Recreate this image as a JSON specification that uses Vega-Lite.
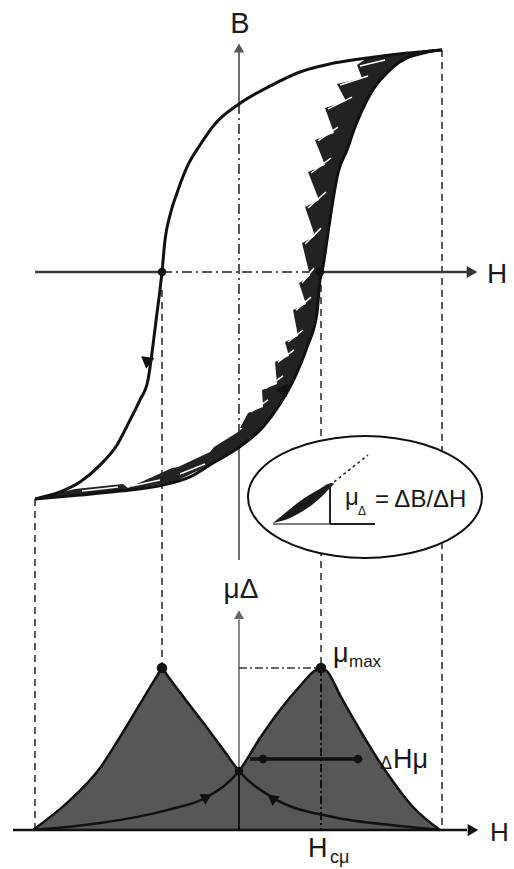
{
  "$schema": "https://vega.github.io/schema/vega-lite/v6.json",
  "width": 514,
  "height": 869,
  "autosize": {"type": "fit", "contains": "padding"},
  "padding": 0,
  "background": "white",
  "config": {"view": {"stroke": null}, "text": {"font": "Liberation Sans", "color": "#1a1a1a"}},
  "datasets": {
    "loop": [
      {"branch": "down", "h": 2.5375, "b": 0.991}, {"branch": "down", "h": 2.2625, "b": 0.982},
      {"branch": "down", "h": 1.8875, "b": 0.969}, {"branch": "down", "h": 1.6, "b": 0.955},
      {"branch": "down", "h": 1.1375, "b": 0.929}, {"branch": "down", "h": 0.7625, "b": 0.893},
      {"branch": "down", "h": 0.3875, "b": 0.83}, {"branch": "down", "h": 0, "b": 0.75},
      {"branch": "down", "h": -0.3, "b": 0.661}, {"branch": "down", "h": -0.4875, "b": 0.567},
      {"branch": "down", "h": -0.6375, "b": 0.478}, {"branch": "down", "h": -0.775, "b": 0.353},
      {"branch": "down", "h": -0.8625, "b": 0.254}, {"branch": "down", "h": -0.925, "b": 0.143},
      {"branch": "down", "h": -0.9625, "b": 0}, {"branch": "down", "h": -0.9875, "b": -0.08},
      {"branch": "down", "h": -1.025, "b": -0.183}, {"branch": "down", "h": -1.075, "b": -0.326},
      {"branch": "down", "h": -1.1375, "b": -0.482}, {"branch": "down", "h": -1.2375, "b": -0.571},
      {"branch": "down", "h": -1.3625, "b": -0.661}, {"branch": "down", "h": -1.525, "b": -0.772},
      {"branch": "down", "h": -1.7375, "b": -0.862}, {"branch": "down", "h": -1.9875, "b": -0.9375},
      {"branch": "down", "h": -2.2375, "b": -0.982}, {"branch": "down", "h": -2.55, "b": -1.013},
      {"branch": "up", "h": -2.55, "b": -1.013}, {"branch": "up", "h": -1.9875, "b": -0.996},
      {"branch": "up", "h": -1.4875, "b": -0.978}, {"branch": "up", "h": -0.95, "b": -0.951},
      {"branch": "up", "h": -0.6125, "b": -0.915}, {"branch": "up", "h": -0.325, "b": -0.853},
      {"branch": "up", "h": -0.0125, "b": -0.786}, {"branch": "up", "h": 0.3, "b": -0.692},
      {"branch": "up", "h": 0.5125, "b": -0.589}, {"branch": "up", "h": 0.675, "b": -0.487},
      {"branch": "up", "h": 0.85, "b": -0.335}, {"branch": "up", "h": 0.975, "b": -0.183},
      {"branch": "up", "h": 1.0125, "b": -0.036}, {"branch": "up", "h": 1.0375, "b": 0},
      {"branch": "up", "h": 1.1125, "b": 0.174}, {"branch": "up", "h": 1.175, "b": 0.321},
      {"branch": "up", "h": 1.2375, "b": 0.442}, {"branch": "up", "h": 1.35, "b": 0.545},
      {"branch": "up", "h": 1.45, "b": 0.647}, {"branch": "up", "h": 1.6, "b": 0.768},
      {"branch": "up", "h": 1.925, "b": 0.915}, {"branch": "up", "h": 2.2625, "b": 0.978},
      {"branch": "up", "h": 2.5375, "b": 0.991}
    ],
    "bandUpper": [
      {"b": 0.991, "h": 2.5375, "h2": 2.5375}, {"b": 0.955, "h": 1.6, "h2": 2.1375},
      {"b": 0.924, "h": 1.475, "h2": 1.9625}, {"b": 0.866, "h": 1.5375, "h2": 1.8125},
      {"b": 0.839, "h": 1.225, "h2": 1.7375}, {"b": 0.763, "h": 1.3375, "h2": 1.59},
      {"b": 0.732, "h": 1.075, "h2": 1.55}, {"b": 0.621, "h": 1.1875, "h2": 1.425},
      {"b": 0.589, "h": 0.95, "h2": 1.3875}, {"b": 0.478, "h": 1.075, "h2": 1.275},
      {"b": 0.446, "h": 0.8625, "h2": 1.2375}, {"b": 0.321, "h": 1.0, "h2": 1.175},
      {"b": 0.29, "h": 0.825, "h2": 1.1625}, {"b": 0.161, "h": 0.95, "h2": 1.106},
      {"b": 0.129, "h": 0.7875, "h2": 1.0875}, {"b": -0.018, "h": 0.8875, "h2": 1.025},
      {"b": -0.049, "h": 0.75, "h2": 1.0125}, {"b": -0.143, "h": 0.8375, "h2": 0.9875},
      {"b": -0.17, "h": 0.675, "h2": 0.975}, {"b": -0.286, "h": 0.7375, "h2": 0.9},
      {"b": -0.313, "h": 0.575, "h2": 0.875}, {"b": -0.375, "h": 0.625, "h2": 0.8},
      {"b": -0.402, "h": 0.45, "h2": 0.775}, {"b": -0.5, "h": 0.475, "h2": 0.656},
      {"b": -0.527, "h": 0.2875, "h2": 0.6125}, {"b": -0.603, "h": 0.3, "h2": 0.4875},
      {"b": -0.629, "h": 0.1125, "h2": 0.425}, {"b": -0.696, "h": 0.0125, "h2": 0.2875}
    ],
    "bandLower": [
      {"h": -2.55, "b": -1.009, "b2": -1.013}, {"h": -2.05, "b": -0.969, "b2": -0.996},
      {"h": -1.45, "b": -0.946, "b2": -0.977}, {"h": -1.3875, "b": -0.964, "b2": -0.973},
      {"h": -0.8375, "b": -0.875, "b2": -0.938}, {"h": -0.7625, "b": -0.871, "b2": -0.929},
      {"h": -0.3625, "b": -0.804, "b2": -0.862}, {"h": -0.3125, "b": -0.781, "b2": -0.848},
      {"h": -0.0125, "b": -0.714, "b2": -0.786}, {"h": 0.3, "b": -0.616, "b2": -0.692}
    ],
    "slivers": [
      {"h": 1.5125, "b": 0.92, "h2": 1.825, "b2": 0.946},
      {"h": 1.2625, "b": 0.835, "h2": 1.6125, "b2": 0.875},
      {"h": 1.1125, "b": 0.728, "h2": 1.4125, "b2": 0.781},
      {"h": 0.9875, "b": 0.585, "h2": 1.2375, "b2": 0.647},
      {"h": 0.9, "b": 0.442, "h2": 1.15, "b2": 0.509},
      {"h": 0.8625, "b": 0.286, "h2": 1.0875, "b2": 0.357},
      {"h": 0.825, "b": 0.125, "h2": 1.025, "b2": 0.196},
      {"h": 0.7875, "b": -0.049, "h2": 0.9375, "b2": 0.018},
      {"h": 0.7125, "b": -0.17, "h2": 0.9, "b2": -0.112},
      {"h": 0.6125, "b": -0.3125, "h2": 0.8, "b2": -0.259},
      {"h": 0.4875, "b": -0.402, "h2": 0.6875, "b2": -0.348},
      {"h": 0.325, "b": -0.522, "h2": 0.55, "b2": -0.464},
      {"h": 0.15, "b": -0.625, "h2": 0.3625, "b2": -0.571},
      {"h": -1.9625, "b": -0.978, "h2": -1.5125, "b2": -0.96},
      {"h": -1.3375, "b": -0.955, "h2": -0.9875, "b2": -0.929},
      {"h": -0.7375, "b": -0.902, "h2": -0.425, "b2": -0.857}
    ],
    "ellipseFill": [
      {"h": 0.1125, "b": -1.0045, "b2": -1.0045}, {"h": 0.1625, "b": -0.934, "b2": -1.075},
      {"h": 0.309, "b": -0.868, "b2": -1.141}, {"h": 0.541, "b": -0.812, "b2": -1.197},
      {"h": 0.844, "b": -0.769, "b2": -1.24}, {"h": 1.196, "b": -0.742, "b2": -1.267},
      {"h": 1.575, "b": -0.732, "b2": -1.277}, {"h": 1.954, "b": -0.742, "b2": -1.267},
      {"h": 2.306, "b": -0.769, "b2": -1.24}, {"h": 2.609, "b": -0.812, "b2": -1.197},
      {"h": 2.841, "b": -0.868, "b2": -1.141}, {"h": 2.9875, "b": -0.934, "b2": -1.075},
      {"h": 3.0375, "b": -1.0045, "b2": -1.0045}
    ],
    "ellipseEdge": [
      {"k": 0, "h": 3.0375, "b": -1.0045}, {"k": 1, "h": 2.9875, "b": -0.934},
      {"k": 2, "h": 2.841, "b": -0.868}, {"k": 3, "h": 2.609, "b": -0.812},
      {"k": 4, "h": 2.306, "b": -0.769}, {"k": 5, "h": 1.954, "b": -0.742},
      {"k": 6, "h": 1.575, "b": -0.732}, {"k": 7, "h": 1.196, "b": -0.742},
      {"k": 8, "h": 0.844, "b": -0.769}, {"k": 9, "h": 0.541, "b": -0.812},
      {"k": 10, "h": 0.309, "b": -0.868}, {"k": 11, "h": 0.1625, "b": -0.934},
      {"k": 12, "h": 0.1125, "b": -1.0045}, {"k": 13, "h": 0.1625, "b": -1.075},
      {"k": 14, "h": 0.309, "b": -1.141}, {"k": 15, "h": 0.541, "b": -1.197},
      {"k": 16, "h": 0.844, "b": -1.24}, {"k": 17, "h": 1.196, "b": -1.267},
      {"k": 18, "h": 1.575, "b": -1.277}, {"k": 19, "h": 1.954, "b": -1.267},
      {"k": 20, "h": 2.306, "b": -1.24}, {"k": 21, "h": 2.609, "b": -1.197},
      {"k": 22, "h": 2.841, "b": -1.141}, {"k": 23, "h": 2.9875, "b": -1.075}
    ],
    "lens": [
      {"h": 0.425, "b": -1.1205, "b2": -1.1205}, {"h": 0.6375, "b": -1.058, "b2": -1.098},
      {"h": 0.8, "b": -1.013, "b2": -1.067}, {"h": 0.9875, "b": -0.973, "b2": -1.018},
      {"h": 1.1625, "b": -0.942, "b2": -0.955}, {"h": 1.1875, "b": -0.946, "b2": -0.946}
    ],
    "peaks": [
      {"c": "A", "h": -2.575, "mu": 0}, {"c": "A", "h": -2.15, "mu": 0.167},
      {"c": "A", "h": -1.7375, "mu": 0.383}, {"c": "A", "h": -1.4875, "mu": 0.574},
      {"c": "A", "h": -1.2375, "mu": 0.778}, {"c": "A", "h": -1.025, "mu": 0.951},
      {"c": "A", "h": -0.9625, "mu": 1.0}, {"c": "A", "h": -0.9, "mu": 0.957},
      {"c": "A", "h": -0.675, "mu": 0.809}, {"c": "A", "h": -0.425, "mu": 0.648},
      {"c": "A", "h": -0.175, "mu": 0.481}, {"c": "A", "h": 0, "mu": 0.364},
      {"c": "A", "h": 0.425, "mu": 0.198}, {"c": "A", "h": 1.175, "mu": 0.08},
      {"c": "A", "h": 2.0125, "mu": 0.025}, {"c": "A", "h": 2.5125, "mu": 0},
      {"c": "B", "h": -2.575, "mu": 0}, {"c": "B", "h": -1.7375, "mu": 0.043},
      {"c": "B", "h": -0.9, "mu": 0.123}, {"c": "B", "h": -0.4, "mu": 0.204},
      {"c": "B", "h": 0, "mu": 0.364}, {"c": "B", "h": 0.2625, "mu": 0.568},
      {"c": "B", "h": 0.5125, "mu": 0.741}, {"c": "B", "h": 0.7625, "mu": 0.889},
      {"c": "B", "h": 0.9625, "mu": 0.988}, {"c": "B", "h": 1.025, "mu": 1.0},
      {"c": "B", "h": 1.1, "mu": 0.981}, {"c": "B", "h": 1.2625, "mu": 0.833},
      {"c": "B", "h": 1.5125, "mu": 0.617}, {"c": "B", "h": 1.85, "mu": 0.352},
      {"c": "B", "h": 2.175, "mu": 0.142}, {"c": "B", "h": 2.5125, "mu": 0}
    ]
  },
  "resolve": {"scale": {"y": "independent"}},
  "layer": [
    {
      "encoding": {
        "x": {"field": "h", "type": "quantitative", "axis": null,
              "scale": {"domain": [-2.9875, 3.4375], "nice": false, "zero": false}},
        "y": {"field": "b", "type": "quantitative", "axis": null,
              "scale": {"domain": [-2.6652, 1.2143], "nice": false, "zero": false}}
      },
      "layer": [
        {
          "data": {"values": [
            {"h": -2.55, "b": -1.013, "h2": -2.55, "b2": -2.491},
            {"h": -0.9625, "b": -0.08, "h2": -0.9625, "b2": -1.768},
            {"h": 1.025, "b": -0.058, "h2": 1.025, "b2": -1.768},
            {"h": 2.5375, "b": 0.991, "h2": 2.5375, "b2": -2.491}
          ]},
          "mark": {"type": "rule", "color": "#5a5a5a", "strokeWidth": 2, "strokeDash": [7, 5]},
          "encoding": {"x2": {"field": "h2"}, "y2": {"field": "b2"}}
        },
        {
          "data": {"values": [
            {"h": -2.55, "b": 0, "h2": -0.9625, "b2": 0},
            {"h": 1.0125, "b": 0, "h2": 2.85, "b2": 0}
          ]},
          "mark": {"type": "rule", "color": "#3a3a3a", "strokeWidth": 2.5},
          "encoding": {"x2": {"field": "h2"}, "y2": {"field": "b2"}}
        },
        {
          "data": {"values": [
            {"h": 0, "b": 1.0, "h2": 0, "b2": 0.75},
            {"h": 0, "b": -0.786, "h2": 0, "b2": -1.286}
          ]},
          "mark": {"type": "rule", "color": "#707070", "strokeWidth": 2},
          "encoding": {"x2": {"field": "h2"}, "y2": {"field": "b2"}}
        },
        {
          "data": {"values": [
            {"h": -0.9625, "b": 0, "h2": 1.0125, "b2": 0},
            {"h": 0, "b": 0.75, "h2": 0, "b2": -0.786}
          ]},
          "mark": {"type": "rule", "color": "#555555", "strokeWidth": 2, "strokeDash": [10, 4, 2, 4]},
          "encoding": {"x2": {"field": "h2"}, "y2": {"field": "b2"}}
        },
        {
          "data": {"name": "ellipseFill"},
          "mark": {"type": "area", "color": "white", "opacity": 1},
          "encoding": {"y2": {"field": "b2"}}
        },
        {
          "data": {"name": "ellipseEdge"},
          "mark": {"type": "line", "color": "#111111", "strokeWidth": 2, "interpolate": "cardinal-closed"},
          "encoding": {"order": {"field": "k", "type": "quantitative"}}
        },
        {
          "data": {"name": "lens"},
          "mark": {"type": "area", "color": "#1a1a1a", "interpolate": "monotone"},
          "encoding": {"y2": {"field": "b2"}}
        },
        {
          "data": {"values": [{"h": 0.425, "b": -1.125, "h2": 1.1375, "b2": -1.125}]},
          "mark": {"type": "rule", "color": "#555555", "strokeWidth": 1.3},
          "encoding": {"x2": {"field": "h2"}, "y2": {"field": "b2"}}
        },
        {
          "data": {"values": [
            {"h": 1.1375, "b": -1.125, "h2": 1.7, "b2": -1.125},
            {"h": 1.1375, "b": -0.946, "h2": 1.1375, "b2": -1.125}
          ]},
          "mark": {"type": "rule", "color": "#222222", "strokeWidth": 2},
          "encoding": {"x2": {"field": "h2"}, "y2": {"field": "b2"}}
        },
        {
          "data": {"values": [{"h": 1.1875, "b": -0.9375, "h2": 1.6125, "b2": -0.817}]},
          "mark": {"type": "rule", "color": "#222222", "strokeWidth": 1.5, "strokeDash": [3, 3]},
          "encoding": {"x2": {"field": "h2"}, "y2": {"field": "b2"}}
        },
        {
          "data": {"name": "bandUpper"},
          "mark": {"type": "area", "color": "#222222", "orient": "horizontal", "opacity": 1},
          "encoding": {"x2": {"field": "h2"}}
        },
        {
          "data": {"name": "bandLower"},
          "mark": {"type": "area", "color": "#222222", "opacity": 1},
          "encoding": {"y2": {"field": "b2"}}
        },
        {
          "data": {"name": "slivers"},
          "mark": {"type": "rule", "color": "white", "strokeWidth": 1.5},
          "encoding": {"x2": {"field": "h2"}, "y2": {"field": "b2"}}
        },
        {
          "data": {"name": "loop"},
          "mark": {"type": "line", "color": "#111111", "strokeWidth": 3, "interpolate": "monotone"},
          "encoding": {"detail": {"field": "branch"}}
        },
        {
          "data": {"values": [{"h": 0, "b": 1.0}]},
          "mark": {"type": "point", "shape": "triangle-up", "filled": true, "size": 110, "color": "#555555", "opacity": 1}
        },
        {
          "data": {"values": [{"h": 2.9125, "b": 0}]},
          "mark": {"type": "point", "shape": "triangle-right", "filled": true, "size": 150, "color": "#333333", "opacity": 1}
        },
        {
          "data": {"values": [{"h": -1.15, "b": -0.406}]},
          "mark": {"type": "point", "shape": "triangle-down", "angle": 8, "filled": true, "size": 180, "color": "#111111", "opacity": 1}
        },
        {
          "data": {"values": [{"h": 0.57, "b": -0.52}]},
          "mark": {"type": "point", "shape": "triangle-up", "angle": 33, "filled": true, "size": 180, "color": "#111111", "opacity": 1}
        },
        {
          "data": {"values": [{"h": -0.9625, "b": 0}, {"h": 1.0125, "b": 0}]},
          "mark": {"type": "circle", "size": 70, "color": "#111111", "opacity": 1}
        },
        {
          "data": {"values": [{"h": 0.0125, "b": 1.067, "t": "B"}]},
          "mark": {"type": "text", "fontSize": 29, "align": "center", "baseline": "alphabetic"},
          "encoding": {"text": {"field": "t"}}
        },
        {
          "data": {"values": [{"h": 3.1, "b": -0.049, "t": "H"}]},
          "mark": {"type": "text", "fontSize": 28, "align": "left", "baseline": "alphabetic"},
          "encoding": {"text": {"field": "t"}}
        },
        {
          "data": {"values": [{"h": 1.325, "b": -1.04, "t": "μ"}]},
          "mark": {"type": "text", "fontSize": 24, "align": "left", "baseline": "alphabetic"},
          "encoding": {"text": {"field": "t"}}
        },
        {
          "data": {"values": [{"h": 1.4875, "b": -1.085, "t": "Δ"}]},
          "mark": {"type": "text", "fontSize": 12, "align": "left", "baseline": "alphabetic"},
          "encoding": {"text": {"field": "t"}}
        },
        {
          "data": {"values": [{"h": 1.7, "b": -1.049, "t": "= ΔB/ΔH"}]},
          "mark": {"type": "text", "fontSize": 24, "align": "left", "baseline": "alphabetic"},
          "encoding": {"text": {"field": "t"}}
        }
      ]
    },
    {
      "encoding": {
        "x": {"field": "h", "type": "quantitative", "axis": null,
              "scale": {"domain": [-2.9875, 3.4375], "nice": false, "zero": false}},
        "y": {"field": "mu", "type": "quantitative", "axis": null,
              "scale": {"domain": [-0.2407, 5.1235], "nice": false, "zero": false}}
      },
      "layer": [
        {
          "data": {"name": "peaks"},
          "mark": {"type": "area", "color": "#575757", "opacity": 1, "interpolate": "monotone"},
          "encoding": {"detail": {"field": "c"}, "y2": {"datum": 0}}
        },
        {
          "data": {"name": "peaks"},
          "mark": {"type": "line", "color": "#111111", "strokeWidth": 2.5, "interpolate": "monotone"},
          "encoding": {"detail": {"field": "c"}}
        },
        {
          "data": {"values": [{"h": -2.825, "mu": 0, "h2": 2.85, "mu2": 0}]},
          "mark": {"type": "rule", "color": "#111111", "strokeWidth": 2.5},
          "encoding": {"x2": {"field": "h2"}, "y2": {"field": "mu2"}}
        },
        {
          "data": {"values": [{"h": 0, "mu": 0.364, "h2": 0, "mu2": 1.3}]},
          "mark": {"type": "rule", "color": "#8a8a8a", "strokeWidth": 2},
          "encoding": {"x2": {"field": "h2"}, "y2": {"field": "mu2"}}
        },
        {
          "data": {"values": [{"h": 0, "mu": 0, "h2": 0, "mu2": 0.364}]},
          "mark": {"type": "rule", "color": "#111111", "strokeWidth": 2},
          "encoding": {"x2": {"field": "h2"}, "y2": {"field": "mu2"}}
        },
        {
          "data": {"values": [{"h": 0, "mu": 1, "h2": 1.025, "mu2": 1}]},
          "mark": {"type": "rule", "color": "#333333", "strokeWidth": 1.5, "strokeDash": [8, 3, 2, 3]},
          "encoding": {"x2": {"field": "h2"}, "y2": {"field": "mu2"}}
        },
        {
          "data": {"values": [{"h": 1.025, "mu": 1, "h2": 1.025, "mu2": 0}]},
          "mark": {"type": "rule", "color": "#111111", "strokeWidth": 2, "strokeDash": [8, 3, 2, 3]},
          "encoding": {"x2": {"field": "h2"}, "y2": {"field": "mu2"}}
        },
        {
          "data": {"values": [{"h": 0.1375, "mu": 0.438, "h2": 1.5375, "mu2": 0.438}]},
          "mark": {"type": "rule", "color": "#111111", "strokeWidth": 3.5},
          "encoding": {"x2": {"field": "h2"}, "y2": {"field": "mu2"}}
        },
        {
          "data": {"values": [{"h": 0, "mu": 1.33}]},
          "mark": {"type": "point", "shape": "triangle-up", "filled": true, "size": 100, "color": "#666666", "opacity": 1}
        },
        {
          "data": {"values": [{"h": 2.925, "mu": 0}]},
          "mark": {"type": "point", "shape": "triangle-right", "filled": true, "size": 150, "color": "#111111", "opacity": 1}
        },
        {
          "data": {"values": [{"h": -0.4, "mu": 0.204}]},
          "mark": {"type": "point", "shape": "triangle-up", "angle": 62, "filled": true, "size": 150, "color": "#111111", "opacity": 1}
        },
        {
          "data": {"values": [{"h": 0.4125, "mu": 0.198}]},
          "mark": {"type": "point", "shape": "triangle-up", "angle": 308, "filled": true, "size": 150, "color": "#111111", "opacity": 1}
        },
        {
          "data": {"values": [{"h": -0.9625, "mu": 1}, {"h": 1.025, "mu": 1}]},
          "mark": {"type": "circle", "size": 110, "color": "#111111", "opacity": 1}
        },
        {
          "data": {"values": [
            {"h": 0, "mu": 0.364}, {"h": 0.3, "mu": 0.438}, {"h": 1.4875, "mu": 0.438}
          ]},
          "mark": {"type": "circle", "size": 75, "color": "#111111", "opacity": 1}
        },
        {
          "data": {"values": [{"h": 0.025, "mu": 1.432, "t": "μΔ"}]},
          "mark": {"type": "text", "fontSize": 28, "align": "center", "baseline": "alphabetic"},
          "encoding": {"text": {"field": "t"}}
        },
        {
          "data": {"values": [{"h": 1.175, "mu": 1.037, "t": "μ"}]},
          "mark": {"type": "text", "fontSize": 27, "align": "left", "baseline": "alphabetic"},
          "encoding": {"text": {"field": "t"}}
        },
        {
          "data": {"values": [{"h": 1.375, "mu": 1.006, "t": "max"}]},
          "mark": {"type": "text", "fontSize": 17, "align": "left", "baseline": "alphabetic"},
          "encoding": {"text": {"field": "t"}}
        },
        {
          "data": {"values": [{"h": 1.7625, "mu": 0.377, "t": "Δ"}]},
          "mark": {"type": "text", "fontSize": 18, "align": "left", "baseline": "alphabetic"},
          "encoding": {"text": {"field": "t"}}
        },
        {
          "data": {"values": [{"h": 1.925, "mu": 0.383, "t": "Hμ"}]},
          "mark": {"type": "text", "fontSize": 27, "align": "left", "baseline": "alphabetic"},
          "encoding": {"text": {"field": "t"}}
        },
        {
          "data": {"values": [{"h": 0.8625, "mu": -0.167, "t": "H"}]},
          "mark": {"type": "text", "fontSize": 27, "align": "left", "baseline": "alphabetic"},
          "encoding": {"text": {"field": "t"}}
        },
        {
          "data": {"values": [{"h": 1.1375, "mu": -0.204, "t": "cμ"}]},
          "mark": {"type": "text", "fontSize": 18, "align": "left", "baseline": "alphabetic"},
          "encoding": {"text": {"field": "t"}}
        },
        {
          "data": {"values": [{"h": 3.1375, "mu": -0.068, "t": "H"}]},
          "mark": {"type": "text", "fontSize": 26, "align": "left", "baseline": "alphabetic"},
          "encoding": {"text": {"field": "t"}}
        }
      ]
    }
  ]
}
